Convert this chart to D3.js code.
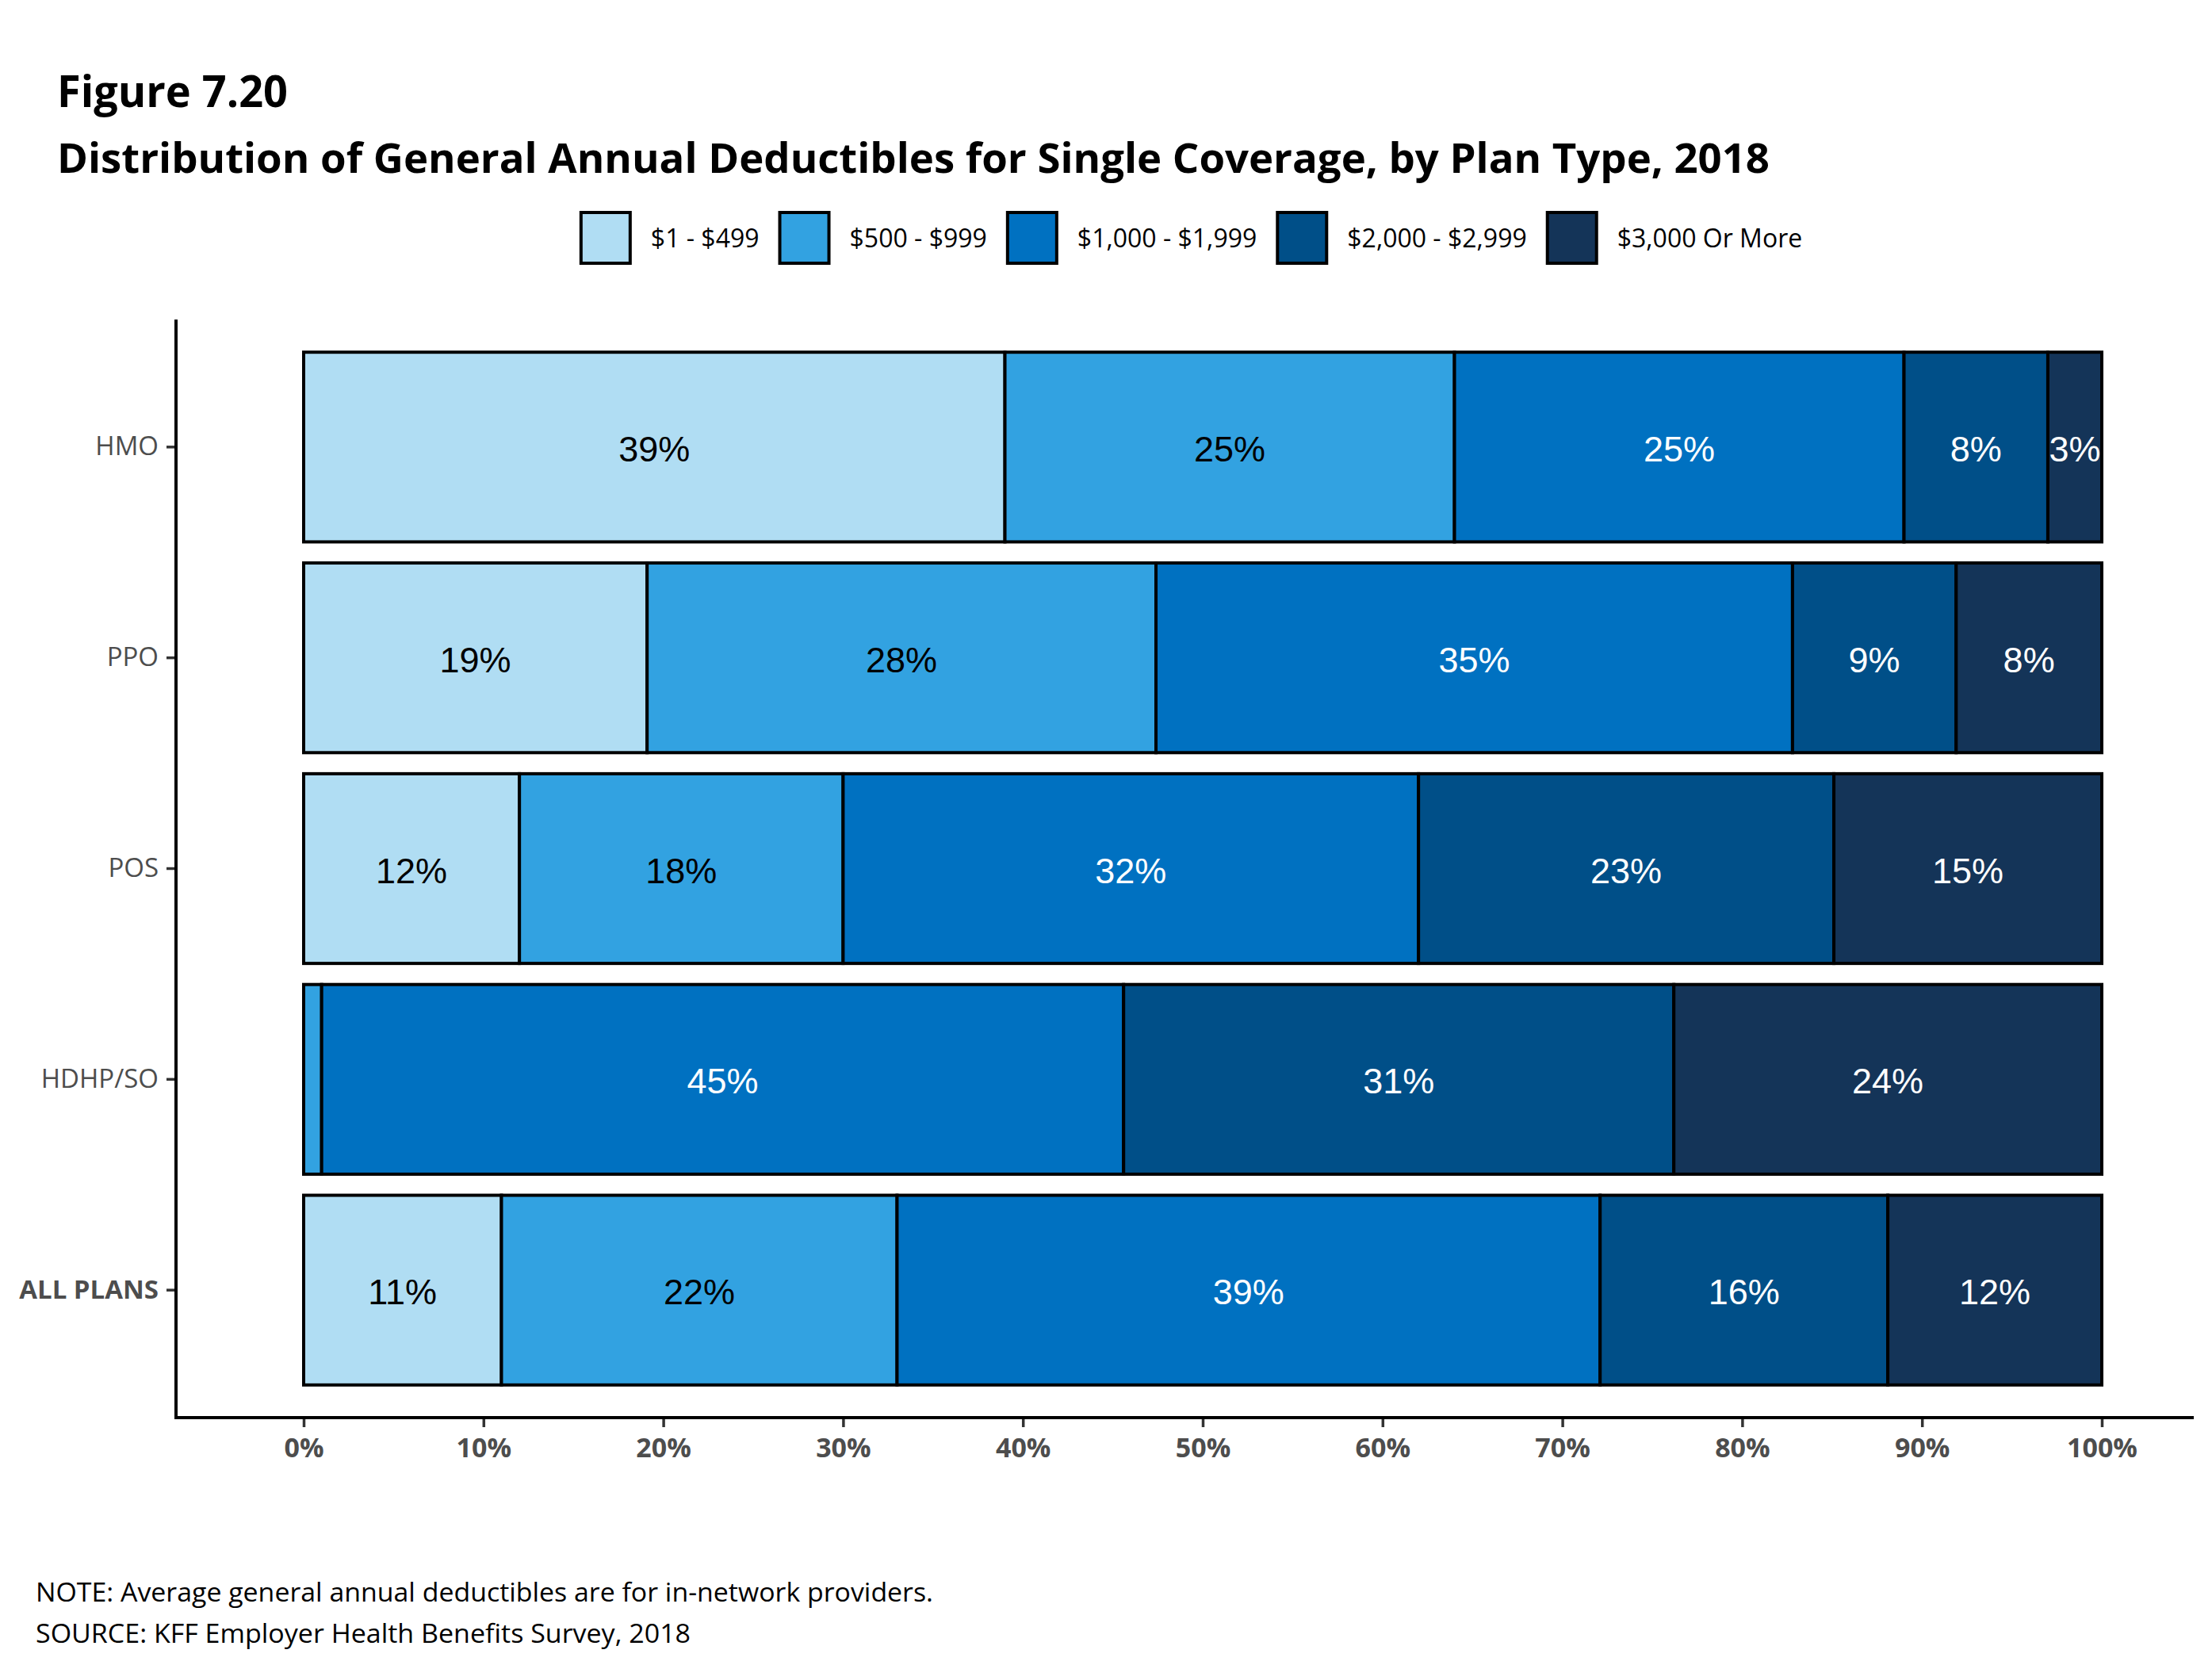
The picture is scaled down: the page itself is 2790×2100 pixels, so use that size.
<!DOCTYPE html>
<html>
<head>
<meta charset="utf-8">
<script src="https://cdn.jsdelivr.net/npm/d3@7"></script>
<style>
  body { margin: 0; background: white; }
  svg { display: block; }
</style>
</head>
<body>
<svg></svg>
<script>
var w = 2790;
var h = 2100;

// data (percent of plans)
var plans = ["HMO", "PPO", "POS", "HDHP/SO", "ALL PLANS"];
var ranges = ["$1 - $499", "$500 - $999", "$1,000 - $1,999", "$2,000 - $2,999", "$3,000 Or More"];
var colors = ["#b0ddf3", "#32a2e1", "#0071c1", "#004f88", "#143458"];
var labelColors = ["black", "black", "white", "white", "white"];

var low = [39, 19.1, 12, 0, 11];
var mid = [25, 28.3, 18, 1, 22];
var k1 = [25, 35.4, 32, 44.6, 39.1];
var k2 = [8, 9.1, 23.1, 30.6, 16];
var k3 = [3, 8.1, 14.9, 23.8, 11.9];

var xTicks = [0, 10, 20, 30, 40, 50, 60, 70, 80, 90, 100];

var rows = plans.map(function (p, i) {
	return { plan: p, r0: low[i], r1: mid[i], r2: k1[i], r3: k2[i], r4: k3[i] };
});
var keys = ["r0", "r1", "r2", "r3", "r4"];

var canvas = d3.select("svg")
	.attr("width", w)
	.attr("height", h)
	.style("background-color", "white");

var x = d3.scaleLinear().domain([0, 100]).range([383, 2651]);
var y = d3.scaleBand().domain(plans).range([403, 1788])
	.paddingInner(0.1).paddingOuter(0.155);

var stack = d3.stack().keys(keys)(rows);

// titles
canvas.append("text")
	.attr("x", 72).attr("y", 135)
	.attr("font-family", "Open Sans").attr("font-weight", "bold")
	.attr("font-size", 56)
	.attr("textLength", 291).attr("lengthAdjust", "spacingAndGlyphs")
	.text("Figure 7.20");

canvas.append("text")
	.attr("x", 72).attr("y", 218)
	.attr("font-family", "Open Sans").attr("font-weight", "bold")
	.attr("font-size", 52)
	.attr("textLength", 2160).attr("lengthAdjust", "spacingAndGlyphs")
	.text("Distribution of General Annual Deductibles for Single Coverage, by Plan Type, 2018");

// legend
var legend = canvas.append("g");
var lx = 0;
ranges.forEach(function (r, i) {
	var item = legend.append("g").attr("transform", "translate(" + lx + ",0)");
	item.append("rect")
		.attr("x", 0).attr("y", 268)
		.attr("width", 62).attr("height", 64)
		.attr("fill", colors[i])
		.attr("stroke", "black").attr("stroke-width", 4);
	var t = item.append("text")
		.attr("x", 88).attr("y", 312)
		.attr("font-family", "Open Sans").attr("font-size", 32)
		.attr("fill", "black")
		.text(r);
	lx += 88 + t.node().getComputedTextLength() + 26;
});
var legendW = lx - 26;
legend.attr("transform", "translate(" + (1503 - legendW / 2) + ",0)");

// bars
var layers = canvas.append("g").selectAll("g")
	.data(stack)
	.join("g")
	.attr("fill", function (d, i) { return colors[i]; });

layers.selectAll("rect")
	.data(function (d) { return d; })
	.join("rect")
	.attr("x", function (d) { return x(d[0]); })
	.attr("y", function (d) { return y(d.data.plan); })
	.attr("width", function (d) { return x(d[1]) - x(d[0]); })
	.attr("height", y.bandwidth())
	.attr("stroke", "black")
	.attr("stroke-width", 4);

layers.each(function (layer, i) {
	d3.select(this).selectAll("text")
		.data(layer.filter(function (d) { return d[1] - d[0] >= 2; }))
		.join("text")
		.attr("x", function (d) { return (x(d[0]) + x(d[1])) / 2; })
		.attr("y", function (d) { return y(d.data.plan) + y.bandwidth() / 2; })
		.attr("dy", "0.4em")
		.attr("text-anchor", "middle")
		.attr("font-family", "Liberation Sans, Arial, sans-serif")
		.attr("font-size", 45)
		.attr("fill", labelColors[i])
		.text(function (d) { return Math.round(d[1] - d[0]) + "%"; });
});

// axes
var xAxis = canvas.append("g")
	.attr("transform", "translate(0,1788)")
	.call(d3.axisBottom(x).tickValues(xTicks).tickSize(12).tickPadding(14)
		.tickFormat(function (d) { return d + "%"; }));
xAxis.select(".domain").remove();
xAxis.selectAll(".tick line").attr("stroke", "#333").attr("stroke-width", 3.5);
xAxis.selectAll(".tick text")
	.attr("font-family", "Open Sans").attr("font-weight", "bold")
	.attr("font-size", 34).attr("fill", "#4d4d4d");

var yAxis = canvas.append("g")
	.attr("transform", "translate(222,0)")
	.call(d3.axisLeft(y).tickSize(12).tickPadding(10));
yAxis.select(".domain").remove();
yAxis.selectAll(".tick line").attr("stroke", "#333").attr("stroke-width", 3.5);
yAxis.selectAll(".tick text")
	.attr("font-family", "Open Sans")
	.attr("font-size", 33)
	.attr("fill", "#4d4d4d")
	.attr("font-weight", function (d) { return d === "ALL PLANS" ? "bold" : "normal"; });

// axis lines
canvas.append("path")
	.attr("d", "M222,403V1788H2767")
	.attr("fill", "none")
	.attr("stroke", "black")
	.attr("stroke-width", 4);

// notes
canvas.append("text")
	.attr("x", 45).attr("y", 2020)
	.attr("font-family", "Open Sans").attr("font-size", 32)
	.attr("textLength", 1132).attr("lengthAdjust", "spacingAndGlyphs")
	.text("NOTE: Average general annual deductibles are for in-network providers.");
canvas.append("text")
	.attr("x", 45).attr("y", 2072)
	.attr("font-family", "Open Sans").attr("font-size", 32)
	.attr("textLength", 826).attr("lengthAdjust", "spacingAndGlyphs")
	.text("SOURCE: KFF Employer Health Benefits Survey, 2018");
</script>
</body>
</html>
